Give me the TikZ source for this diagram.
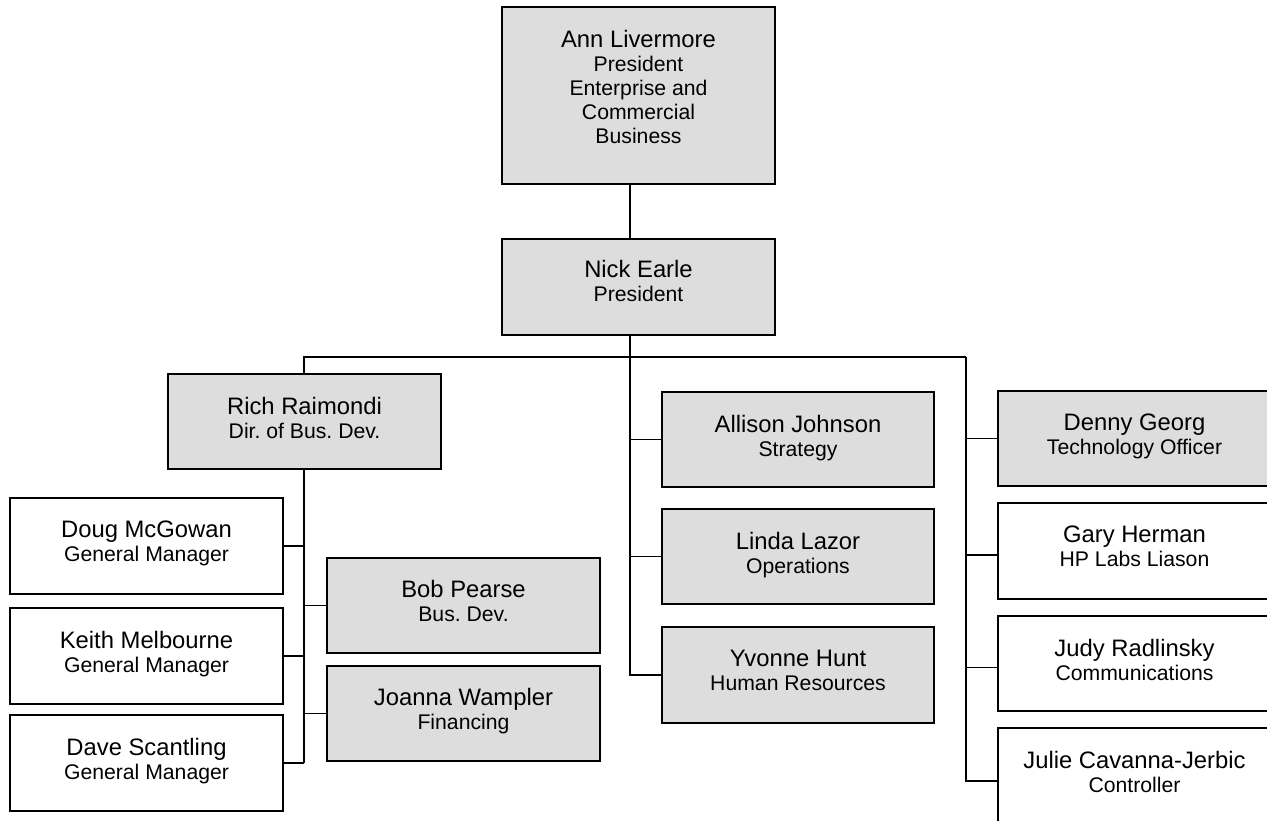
\documentclass[tikz,border=0pt]{standalone}
\usepackage{fontspec}
\setmainfont{Liberation Sans}
\frenchspacing
\newcommand\nmf{\fontsize{23.8}{24}\selectfont}
\newcommand\tlf{\fontsize{21.2}{24}\selectfont}
\definecolor{boxgray}{RGB}{221,221,221}
\begin{document}
\begin{tikzpicture}[x=1pt,y=-1pt,
  orgbox/.style={draw=black, line width=1.8pt, rectangle, inner sep=0pt, outer sep=0pt,
                 minimum width=273pt, minimum height=95pt, anchor=north west},
  grayfill/.style={fill=boxgray},
  whitefill/.style={fill=white},
  txt/.style={anchor=north, inner sep=0pt, align=center, font=\tlf, text=black},
  conn/.style={draw=black, line width=1.8pt}]
\clip (0,0) rectangle (1267,820);
\fill[white] (0,0) rectangle (1267,820);

% boxes
\node[orgbox, grayfill, minimum height=177pt] (ann) at (502,7) {};
\node[orgbox, grayfill, minimum height=96pt] (nick) at (502,239) {};
\node[orgbox, grayfill] (rich) at (168,374) {};
\node[orgbox, whitefill, minimum height=96pt] (doug) at (10,498) {};
\node[orgbox, whitefill, minimum height=96pt] (keith) at (10,608) {};
\node[orgbox, whitefill, minimum height=96pt] (dave) at (10,715) {};
\node[orgbox, grayfill] (bob) at (327,558) {};
\node[orgbox, grayfill] (joanna) at (327,666) {};
\node[orgbox, grayfill, minimum width=272pt] (allison) at (662,392) {};
\node[orgbox, grayfill, minimum width=272pt] (linda) at (662,509) {};
\node[orgbox, grayfill, minimum width=272pt, minimum height=96pt] (yvonne) at (662,627) {};
\node[orgbox, grayfill] (denny) at (998,391) {};
\node[orgbox, whitefill, minimum height=96pt] (gary) at (998,503) {};
\node[orgbox, whitefill] (judy) at (998,616) {};
\node[orgbox, whitefill, minimum height=100pt] (julie) at (998,728) {};

% texts
\node[txt] (annT) at ([yshift=-23pt]ann.north) {{\nmf Ann Livermore}\\President\\Enterprise and\\Commercial\\Business};
\node[txt] (nickT) at ([yshift=-21pt]nick.north) {{\nmf Nick Earle}\\President};
\node[txt] (richT) at ([yshift=-23pt]rich.north) {{\nmf Rich Raimondi}\\Dir. of Bus. Dev.};
\node[txt] (dougT) at ([yshift=-23pt]doug.north) {{\nmf Doug McGowan}\\General Manager};
\node[txt] (keithT) at ([yshift=-23pt]keith.north) {{\nmf Keith Melbourne}\\General Manager};
\node[txt] (daveT) at ([yshift=-23pt]dave.north) {{\nmf Dave Scantling}\\General Manager};
\node[txt] (bobT) at ([yshift=-22pt]bob.north) {{\nmf Bob Pearse}\\Bus. Dev.};
\node[txt] (joannaT) at ([yshift=-22pt]joanna.north) {{\nmf Joanna Wampler}\\Financing};
\node[txt] (allisonT) at ([yshift=-23pt]allison.north) {{\nmf Allison Johnson}\\Strategy};
\node[txt] (lindaT) at ([yshift=-23pt]linda.north) {{\nmf Linda Lazor}\\Operations};
\node[txt] (yvonneT) at ([yshift=-23pt]yvonne.north) {{\nmf Yvonne Hunt}\\Human Resources};
\node[txt] (dennyT) at ([yshift=-23pt]denny.north) {{\nmf Denny Georg}\\Technology Officer};
\node[txt] (garyT) at ([yshift=-23pt]gary.north) {{\nmf Gary Herman}\\HP Labs Liason};
\node[txt] (judyT) at ([yshift=-23pt]judy.north) {{\nmf Judy Radlinsky}\\Communications};
\node[txt] (julieT) at ([yshift=-23pt]julie.north) {{\nmf Julie Cavanna-Jerbic}\\Controller};

% trunk coordinates
\coordinate (midtrunk) at (630,357);
\coordinate (lefttrunk) at (304,357);
\coordinate (righttrunk) at (966,357);

% connectors
\draw[conn] (ann.south -| midtrunk) -- (nick.north -| midtrunk);
\draw[conn] (nick.south -| midtrunk) -- (midtrunk);
\draw[conn] (rich.north -| lefttrunk) -- (lefttrunk) -- (righttrunk);
\draw[conn] (rich.south -| lefttrunk) -- (dave.east -| lefttrunk);
\draw[conn] (doug.east) -- (doug.east -| lefttrunk);
\draw[conn] (keith.east) -- (keith.east -| lefttrunk);
\draw[conn] (dave.east) -- (dave.east -| lefttrunk);
\draw[conn] (bob.west) -- (bob.west -| lefttrunk);
\draw[conn] (joanna.west) -- (joanna.west -| lefttrunk);
\draw[conn] (midtrunk) -- (yvonne.west -| midtrunk) -- (yvonne.west);
\draw[conn] (allison.west) -- (allison.west -| midtrunk);
\draw[conn] (linda.west) -- (linda.west -| midtrunk);
\draw[conn] (righttrunk) -- ([yshift=-3pt]julie.west -| righttrunk) -- ([yshift=-3pt]julie.west);
\draw[conn] (denny.west) -- (denny.west -| righttrunk);
\draw[conn] ([yshift=-4pt]gary.west) -- ([yshift=-4pt]gary.west -| righttrunk);
\draw[conn] ([yshift=-4pt]judy.west) -- ([yshift=-4pt]judy.west -| righttrunk);
\end{tikzpicture}
\end{document}
